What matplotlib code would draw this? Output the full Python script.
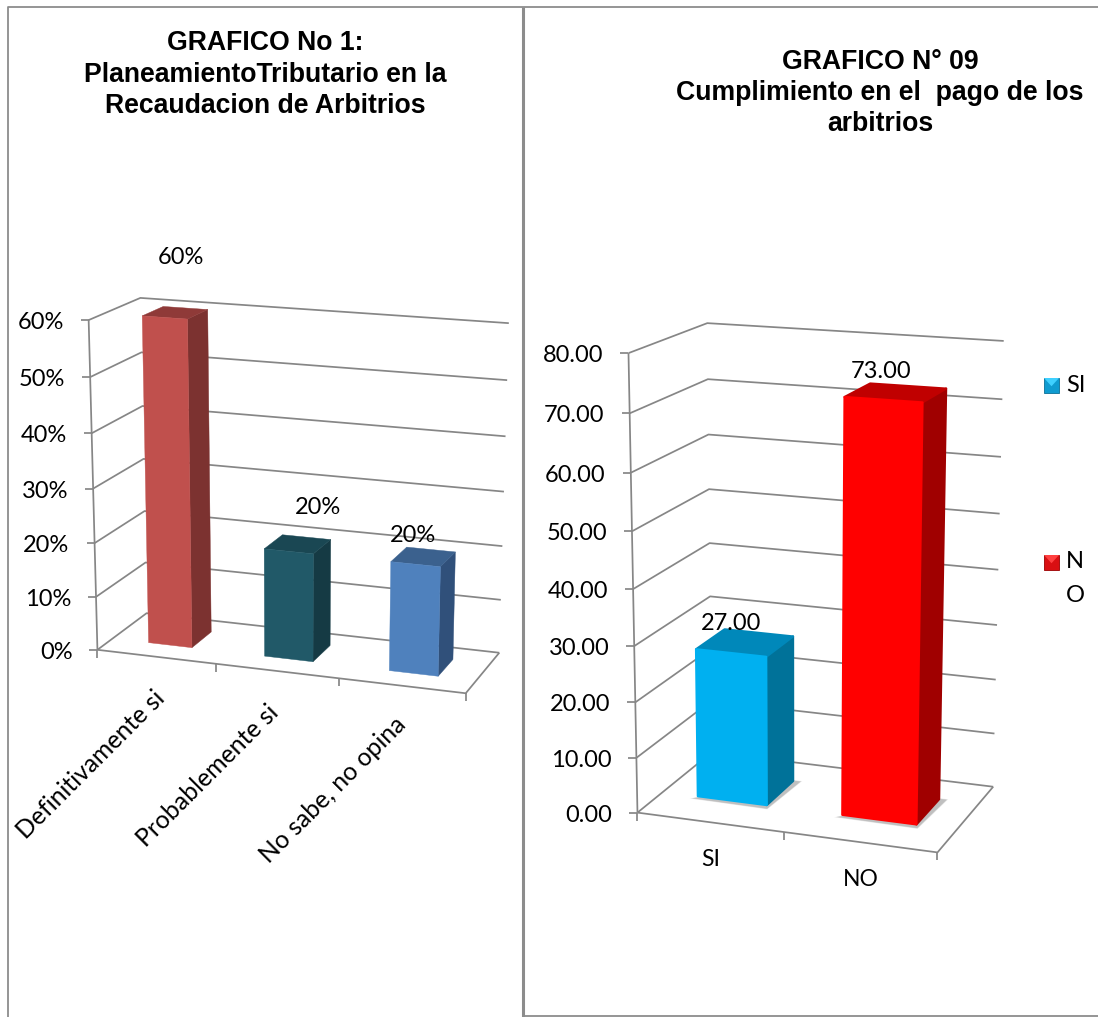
import numpy as np
import matplotlib
matplotlib.use("Agg")
import matplotlib.pyplot as plt
from matplotlib.patches import Polygon

# ---- data ----
left_title = "GRAFICO No 1:\nPlaneamientoTributario en la\nRecaudacion de Arbitrios"
left_categories = ["Definitivamente si", "Probablemente si", "No sabe, no opina"]
left_values = [60, 20, 20]
left_value_labels = ["60%", "20%", "20%"]
left_ticks = [0, 10, 20, 30, 40, 50, 60]
left_tick_labels = ["0%", "10%", "20%", "30%", "40%", "50%", "60%"]

right_title = "GRAFICO N° 09\nCumplimiento en el  pago de los\narbitrios"
right_categories = ["SI", "NO"]
right_values = [27.0, 73.0]
right_value_labels = ["27.00", "73.00"]
right_ticks = [0, 10, 20, 30, 40, 50, 60, 70, 80]
right_tick_labels = ["0.00", "10.00", "20.00", "30.00", "40.00", "50.00", "60.00", "70.00", "80.00"]

# ---- style ----
W, H = 1098, 1017
GRID = "#868686"
LBL = ["Lato", "Open Sans", "DejaVu Sans"]
TTL = ["Liberation Sans", "DejaVu Sans"]
LW = 1.25
LABEL_PT = 17
TITLE_PT = 19.2
TITLE_LS = 1.27

fig = plt.figure(figsize=(W / 100, H / 100), dpi=100)
ax = fig.add_axes([0, 0, 1, 1])
ax.set_xlim(0, W)
ax.set_ylim(H, 0)
ax.axis("off")


def make_camera(corners):
    """corners: dict (x,d,v in 0/1) -> pixel. Least-squares perspective camera."""
    A, b = [], []
    for (X, Y, Z), (u, v) in corners.items():
        A.append([X, Y, Z, 1, 0, 0, 0, 0, -u * X, -u * Y, -u * Z]); b.append(u)
        A.append([0, 0, 0, 0, X, Y, Z, 1, -v * X, -v * Y, -v * Z]); b.append(v)
    p = np.linalg.lstsq(np.array(A, float), np.array(b, float), rcond=None)[0]

    def cam(x, d, v):
        w = p[8] * x + p[9] * d + p[10] * v + 1
        return ((p[0] * x + p[1] * d + p[2] * v + p[3]) / w,
                (p[4] * x + p[5] * d + p[6] * v + p[7]) / w)
    return cam


def line(pts, z=2, lw=LW, color=GRID):
    xs, ys = zip(*pts)
    ax.plot(xs, ys, color=color, lw=lw, zorder=z, solid_capstyle="butt")


def chart(corners, cats, vals, ticks, tick_labels, vmax, bar_spans, d0, d1, cols,
          label_xy, value_labels, rounded=False):
    cam = make_camera(corners)
    n = len(cats)
    # walls
    for t, lab in zip(ticks, tick_labels):
        v = t / vmax
        fl = cam(0, 0, v); bl = cam(0, 1, v); br = cam(1, 1, v)
        line([fl, bl, br])
        line([(fl[0] - 8, fl[1]), fl])
        ax.text(fl[0] - 25, fl[1] + 2.5, lab, ha="right", va="center", fontsize=LABEL_PT, family=LBL, color="black")
    line([cam(0, 0, 0), cam(0, 0, 1)])
    # floor
    line([cam(0, 0, 0), cam(1, 0, 0), cam(1, 1, 0)])
    for i in range(n + 1):
        p = cam(i / n, 0, 0)
        line([p, (p[0], p[1] + 8)])
    # bars
    for i, val in enumerate(vals):
        a, b = bar_spans[i]
        x0, x1 = (i + a) / n, (i + b) / n
        v = val / vmax
        front, top, side = cols[i]
        if rounded:
            c = [cam(x0 - .008, d0 - .02, 0), cam(x1 + .008, d0 - .03, 0),
                 cam(x1 + .02, d1 + .015, 0), cam(x1 - .01, d1 + .015, 0)]
            for grow, al in [(3, .10), (2, .14), (1, .18)]:
                cx, cy = np.mean(c, axis=0)
                pts = [((px - cx) * (1 + grow / 45) + cx, (py - cy) * (1 + grow / 45) + cy + 1) for px, py in c]
                ax.add_patch(Polygon(pts, closed=True, fc="#555555", ec="none", alpha=al, zorder=3))
        faces = [
            ([cam(x1, d0, 0), cam(x1, d1, 0), cam(x1, d1, v), cam(x1, d0, v)], side),
            ([cam(x0, d0, v), cam(x1, d0, v), cam(x1, d1, v), cam(x0, d1, v)], top),
            ([cam(x0, d0, 0), cam(x1, d0, 0), cam(x1, d0, v), cam(x0, d0, v)], front),
        ]
        for pts, col in faces:
            ax.add_patch(Polygon(pts, closed=True, fc=col, ec=col, lw=1.6 if rounded else 0.3,
                                 joinstyle="round", zorder=4))
    # value labels
    for (lx, ly), s in zip(label_xy, value_labels):
        ax.text(lx, ly, s, ha="center", va="center", fontsize=LABEL_PT, family=LBL, color="black", zorder=6)


# ---- panel borders ----
line([(8, H), (8, 7), (W, 7)], lw=1.3, color="#8c8c8c")
line([(522.5, 7), (522.5, H)], lw=2.2, color="#8c8c8c")
line([(525, 1016), (W, 1016)], lw=1.3, color="#8c8c8c")

# ---- left chart ----
chart({(0, 0, 0): (98, 650), (1, 0, 0): (465, 693), (1, 1, 0): (500, 653), (0, 1, 0): (146, 613),
       (0, 0, 1): (88, 320), (0, 1, 1): (141, 298), (1, 1, 1): (508, 323), (1, 0, 1): (475, 348)},
      left_categories, left_values, left_ticks, left_tick_labels, 60,
      [(.31, .68), (.29, .69), (.31, .70)], .3, .72,
      [("#c0504d", "#8f3a38", "#7c3230"), ("#215968", "#1a4753", "#153a44"), ("#4f81bd", "#3b618e", "#30507a")],
      [(181, 258), (318, 507), (413, 535)], left_value_labels)

ax.text(265, 74.5, left_title, ha="center", va="center", fontsize=TITLE_PT, family=TTL, weight="bold",
        linespacing=TITLE_LS, color="black")
for s, (x, y) in zip(left_categories, [(153, 686), (266, 701), (394, 713)]):
    ax.text(x, y, s, rotation=45, ha="right", va="top", rotation_mode="anchor",
            fontsize=17.8, family=LBL, color="black")

# ---- right chart ----
chart({(0, 0, 0): (638, 812), (1, 0, 0): (938, 853), (1, 1, 0): (993, 786), (0, 1, 0): (711, 753),
       (0, 0, 1): (628, 352), (0, 1, 1): (708, 324), (1, 1, 1): (1004, 340), (1, 0, 1): (945, 375)},
      right_categories, right_values, right_ticks, right_tick_labels, 80,
      [(.245, .725), (.24, .735)], .33, .72,
      [("#00b0f0", "#0088ba", "#007299"), ("#ff0000", "#c00000", "#a00000")],
      [(731, 624), (881, 371)], right_value_labels, rounded=True)

ax.text(880, 93, right_title, ha="center", va="center", fontsize=TITLE_PT, family=TTL, weight="bold",
        linespacing=TITLE_LS, color="black")
for s, (x, y) in zip(right_categories, [(711, 860), (861, 879)]):
    ax.text(x, y, s, ha="center", va="center", fontsize=LABEL_PT - 0.5, family=LBL, color="black")


# ---- legend ----
def legend_key(x, y, s, base, light, dark):
    corners = [(x, y), (x + s, y), (x + s, y + s), (x, y + s)]
    mid = (x + s / 2, y + s * .55)
    ax.add_patch(Polygon(corners, closed=True, fc=base, ec=dark, lw=.6, zorder=5))
    ax.add_patch(Polygon([corners[0], corners[1], mid], closed=True, fc=light, ec="none", zorder=5))


legend_key(1044, 378, 15, "#0f9bd0", "#3fd0ff", "#0a6f96")
legend_key(1044, 555, 15, "#d90f12", "#ff4040", "#9a0000")
for s, (x, y) in zip(["SI", "N", "O"], [(1066, 386), (1066, 561), (1066, 595)]):
    ax.text(x, y, s, ha="left", va="center", fontsize=LABEL_PT, family=LBL, color="black")

fig.savefig("out.png", dpi=100)
